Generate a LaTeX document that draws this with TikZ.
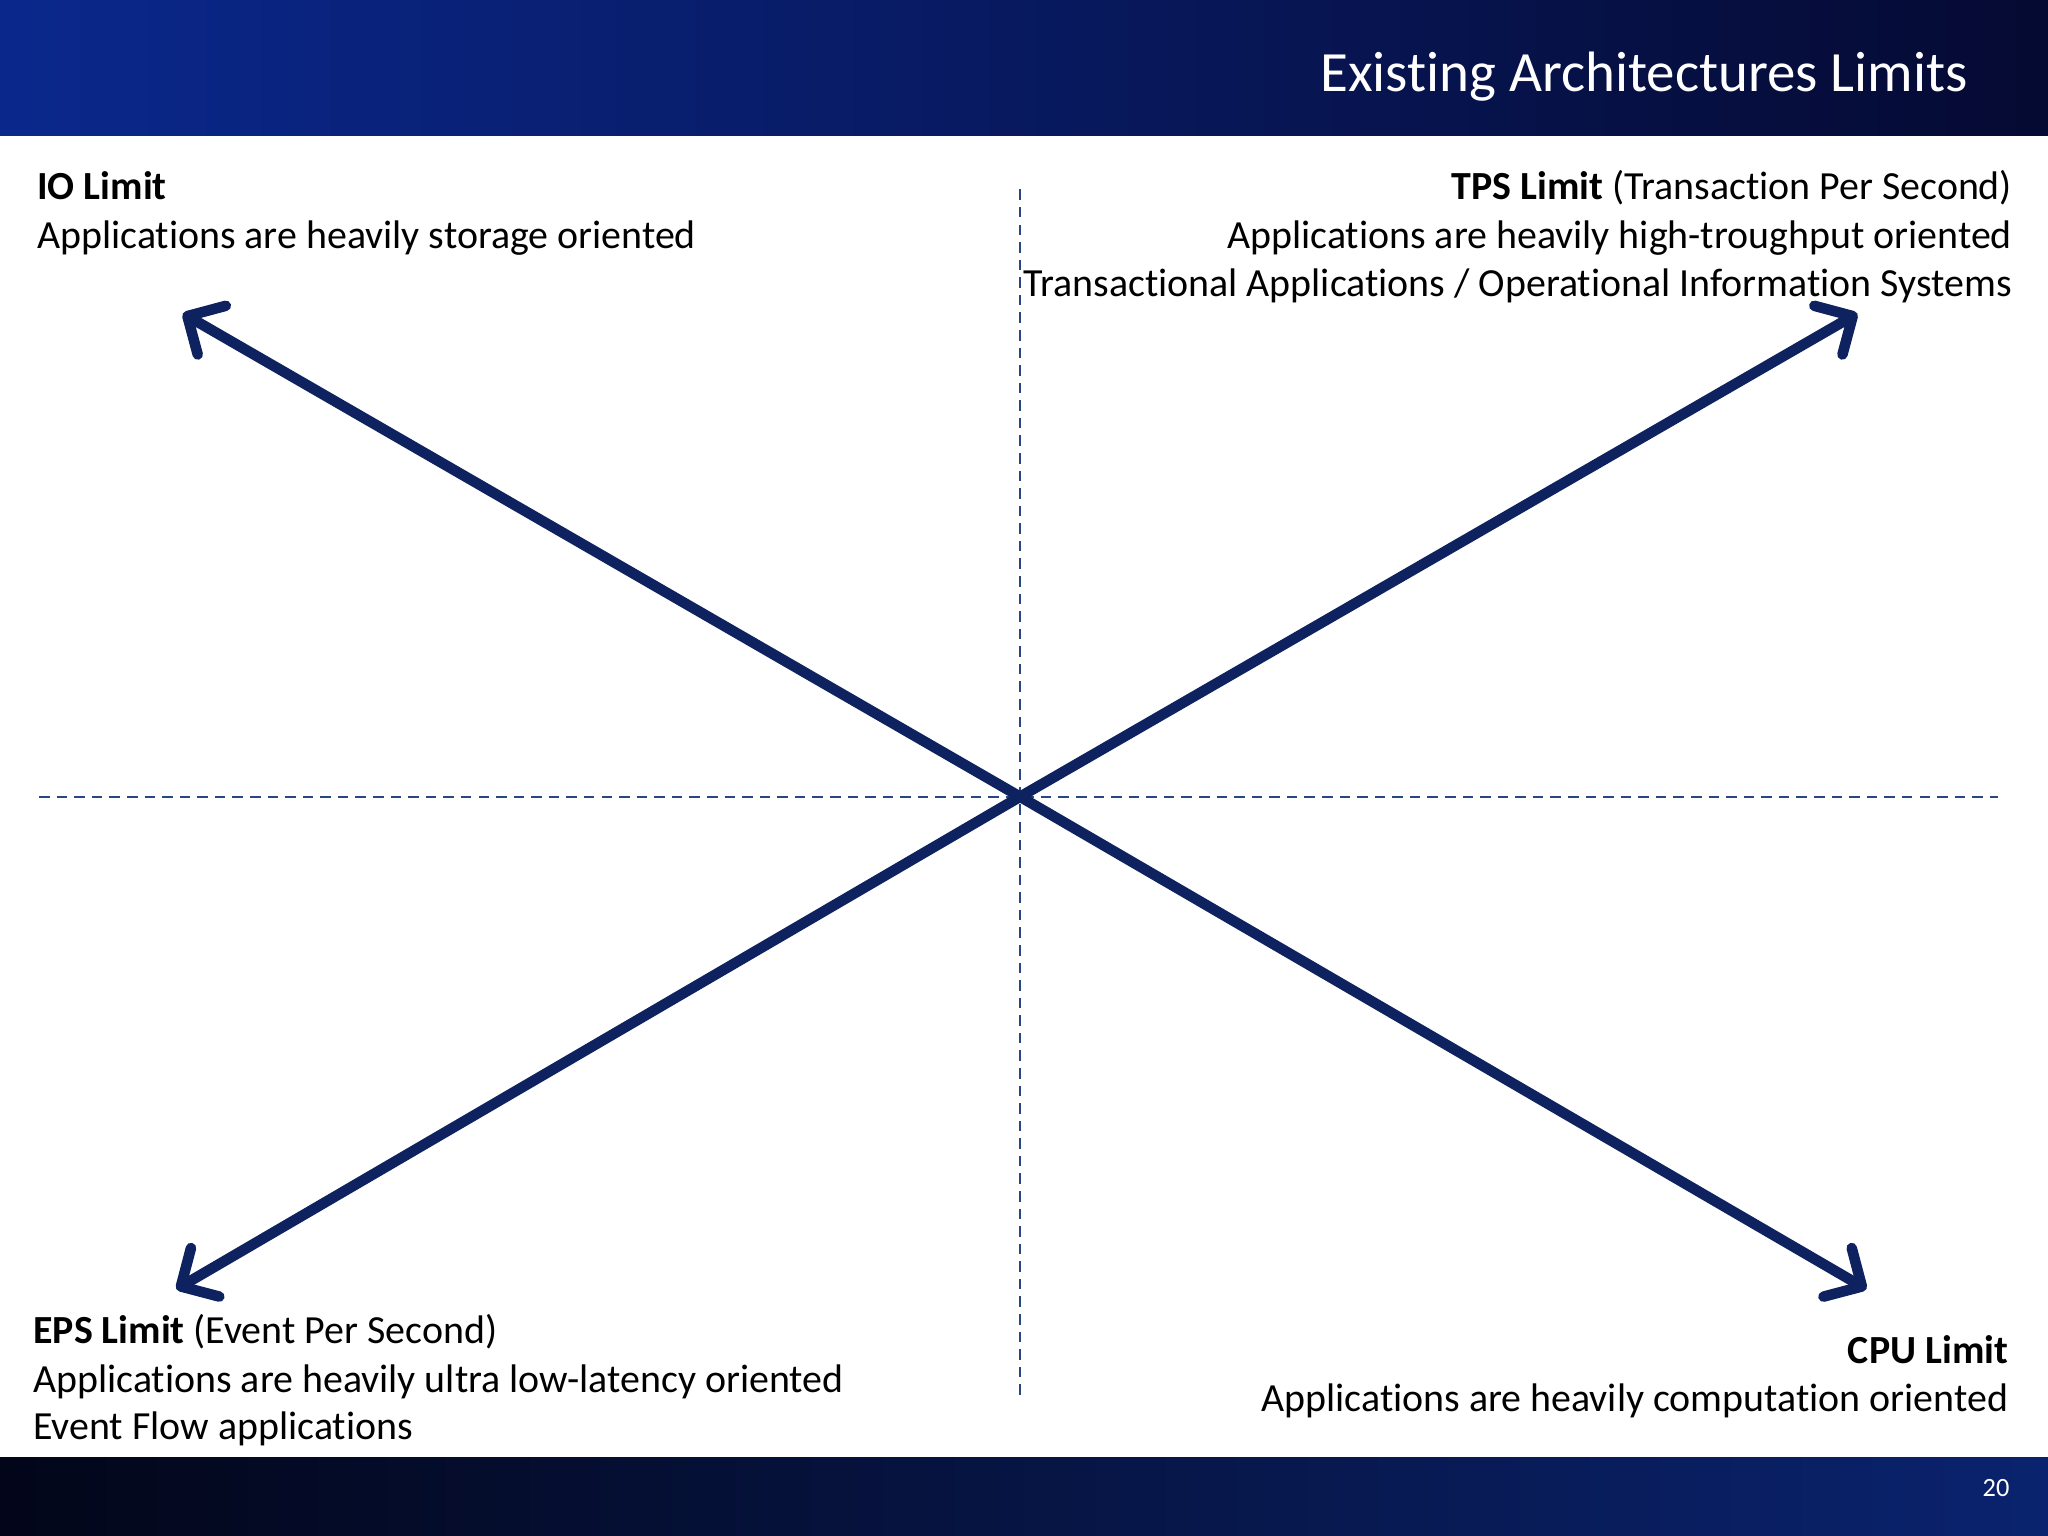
\documentclass[tikz,border=0pt]{standalone}
\usepackage{fontspec}
\setmainfont[Ligatures=NoCommon]{Carlito}
\usetikzlibrary{arrows.meta}
\definecolor{navy}{RGB}{14,34,96}
\definecolor{guideblue}{RGB}{40,70,130}
\begin{document}
\begin{tikzpicture}[x=0.01306cm,y=-0.01306cm,
  txt/.style={inner sep=0pt,font=\fontsize{11.35}{13}\selectfont},
  bigarrow/.style={navy,line width=3pt,-{Straight Barb[length=8pt,width=16pt,line width=3pt,round]}},
  guide/.style={guideblue,line width=0.6pt,dash pattern=on 3pt off 2pt}]
\useasboundingbox (0,0) rectangle (1568,1176);
\fill[white] (0,0) rectangle (1568,1176);
\shade[left color={rgb,255:red,10;green,40;blue,140},right color={rgb,255:red,5;green,10;blue,50}] (0,0) rectangle (1568,104);
\shade[left color={rgb,255:red,3;green,6;blue,25},right color={rgb,255:red,10;green,35;blue,110}] (0,1116) rectangle (1568,1176);
\node[anchor=base east,inner sep=0pt,white,font=\fontsize{16.2}{18}\selectfont] (title) at (1507,70) {Existing Architectures Limits};
\node[anchor=base east,inner sep=0pt,white,font=\fontsize{7.5}{8}\selectfont] (pg) at (1539,1146) {20};
\coordinate (c) at (781,610);
\coordinate (vt) at (781,145); \coordinate (vb) at (781,1070);
\coordinate (hl) at (30,610); \coordinate (hr) at (1530,610);
\draw[guide] (vt) -- (vb);
\draw[guide] (hl) -- (hr);
\coordinate (nw) at (140,240); \coordinate (ne) at (1422,240);
\coordinate (sw) at (135,987); \coordinate (se) at (1429,987);
\draw[bigarrow] (c) -- (nw);
\draw[bigarrow] (c) -- (ne);
\draw[bigarrow] (c) -- (sw);
\draw[bigarrow] (c) -- (se);
\node[txt,anchor=base west] (io1) at (28,153) {\textbf{IO Limit}};
\node[txt,anchor=base west] (io2) at (28,190) {Applications are heavily storage oriented};
\node[txt,anchor=base east] (tps1) at (1541,153) {\textbf{TPS Limit} (Transaction Per Second)};
\node[txt,anchor=base east] (tps2) at (1541,190) {Applications are heavily high-troughput oriented};
\node[txt,anchor=base east] (tps3) at (1541,227) {Transactional Applications / Operational Information Systems};
\node[txt,anchor=base west] (eps1) at (25,1029) {\textbf{EPS Limit} (Event Per Second)};
\node[txt,anchor=base west] (eps2) at (25,1066) {Applications are heavily ultra low-latency oriented};
\node[txt,anchor=base west] (eps3) at (25,1102) {Event Flow applications};
\node[txt,anchor=base east] (cpu1) at (1538,1044) {\textbf{CPU Limit}};
\node[txt,anchor=base east] (cpu2) at (1538,1081) {Applications are heavily computation oriented};
\end{tikzpicture}
\end{document}
